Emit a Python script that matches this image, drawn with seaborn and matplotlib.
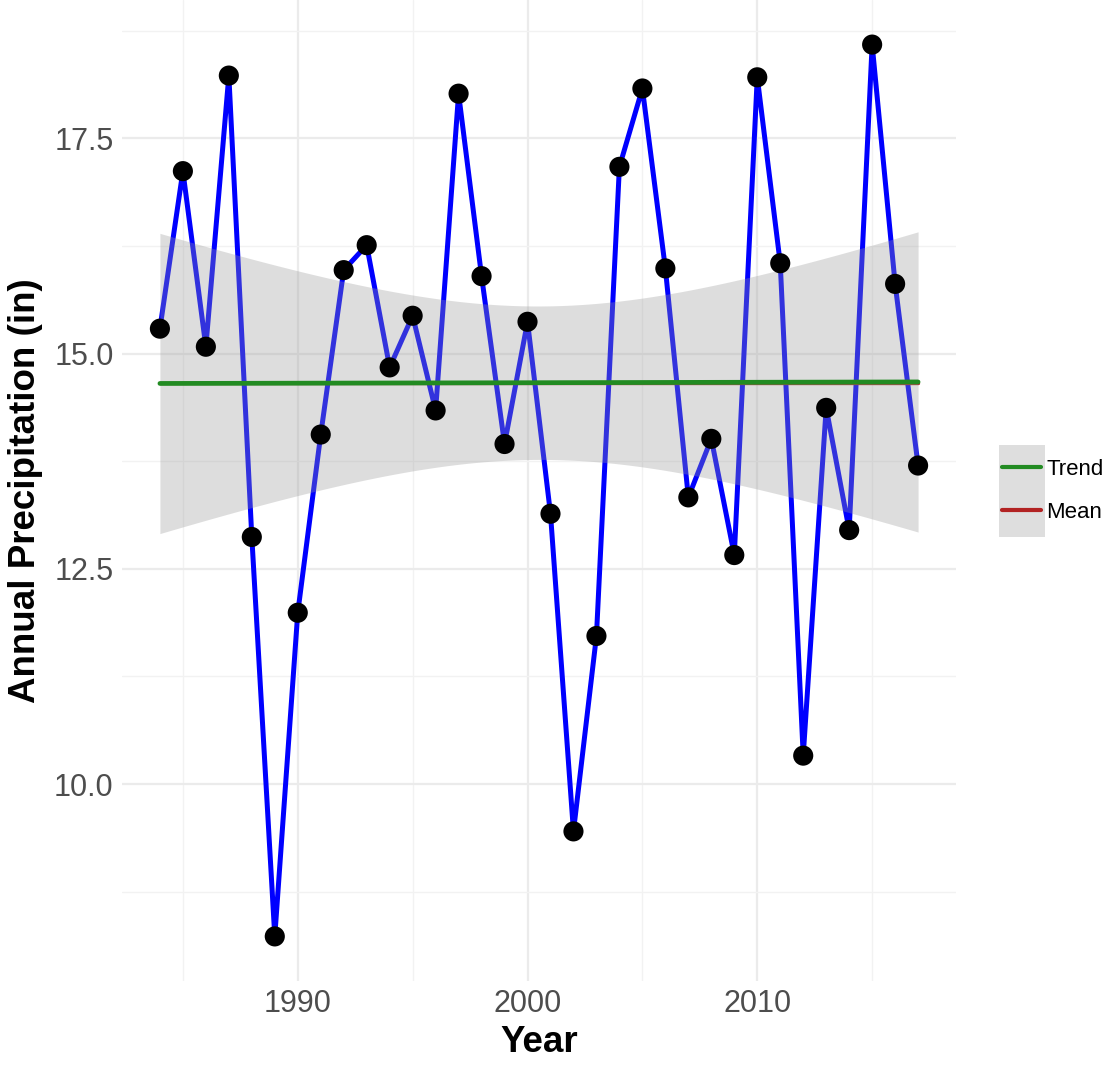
import numpy as np
import pandas as pd
import matplotlib.pyplot as plt
import seaborn as sns
from matplotlib.lines import Line2D
from matplotlib.patches import Rectangle

# Annual precipitation
years = list(range(1984, 2018))
precip = [15.29, 17.12, 15.08, 18.23, 12.87, 8.23, 11.99, 14.06, 15.97, 16.26,
          14.84, 15.44, 14.34, 18.02, 15.90, 13.95, 15.37, 13.14, 9.45, 11.72,
          17.17, 18.08, 15.99, 13.33, 14.01, 12.66, 18.21, 16.05, 10.33, 14.37,
          12.95, 18.59, 15.81, 13.70]
legend_labels = ['Trend', 'Mean']

df = pd.DataFrame({'Year': years, 'Precip': precip})

sns.set_style('white')
plt.rcParams['font.family'] = ['Liberation Sans', 'DejaVu Sans']

fig = plt.figure(figsize=(11.15, 10.67), dpi=100)
ax = fig.add_axes([122 / 1115, 1 - 981 / 1067, (956 - 122) / 1115, 981 / 1067])

# linear trend with 95% confidence band (like geom_smooth(method='lm'))
x = df['Year'].to_numpy(float)
y = df['Precip'].to_numpy(float)
n = len(x)
slope, intercept = np.polyfit(x, y, 1)
xs = np.linspace(x.min(), x.max(), 200)
fit = intercept + slope * xs
resid = y - (intercept + slope * x)
s = np.sqrt(np.sum(resid ** 2) / (n - 2))
se = s * np.sqrt(1 / n + (xs - x.mean()) ** 2 / np.sum((x - x.mean()) ** 2))
tval = 2.0369
df['Mean'] = y.mean()

sns.lineplot(data=df, x='Year', y='Precip', color='blue', linewidth=3.6, ax=ax, zorder=2)
sns.lineplot(data=df, x='Year', y='Mean', color='#b22222', linewidth=2.4, ax=ax, zorder=3)
ax.fill_between(xs, fit - tval * se, fit + tval * se, color='#999999', alpha=0.33,
                linewidth=0, zorder=4)
ax.plot(xs, fit, color='#228b22', linewidth=3.4, zorder=5)
sns.scatterplot(data=df, x='Year', y='Precip', color='black', s=210, edgecolor='none',
                ax=ax, zorder=6)

span = x.max() - x.min()
ax.set_xlim(x.min() - 0.05 * span, x.max() + 0.05 * span)
yspan = y.max() - y.min()
ax.set_ylim(y.min() - 0.05 * yspan, y.max() + 0.05 * yspan)

ax.set_xticks([1990, 2000, 2010])
ax.set_xticks([1985, 1995, 2005, 2015], minor=True)
ax.set_yticks([10.0, 12.5, 15.0, 17.5])
ax.set_yticklabels(['10.0', '12.5', '15.0', '17.5'])
ax.set_yticks([8.75, 11.25, 13.75, 16.25, 18.75], minor=True)
ax.grid(True, which='major', color='#ebebeb', linewidth=1.6)
ax.grid(True, which='minor', color='#f2f2f2', linewidth=1.0)
ax.set_axisbelow(True)
for sp in ax.spines.values():
    sp.set_visible(False)
ax.tick_params(which='both', length=0, labelsize=22, labelcolor='#4d4d4d', pad=6)

ax.set_xlabel('Year', fontsize=26.5, fontweight='bold', color='black', labelpad=4)
ax.set_ylabel('Annual Precipitation (in)', fontsize=26.5, fontweight='bold',
              color='black', labelpad=8)

# legend with grey key background
fig.add_artist(Rectangle((999 / 1115, 1 - 537 / 1067), 46 / 1115, 92 / 1067,
                         transform=fig.transFigure, facecolor='#dedede',
                         edgecolor='none', zorder=0))
handles = [Line2D([], [], color='#228b22', linewidth=3),
           Line2D([], [], color='#b22222', linewidth=3)]
leg = fig.legend(handles, legend_labels, loc='center left',
                 bbox_to_anchor=(1002 / 1115, 1 - 491 / 1067), frameon=False,
                 fontsize=16, handlelength=1.75, handletextpad=0.25, labelspacing=1.0,
                 borderpad=0, borderaxespad=0)
for t in leg.get_texts():
    t.set_color('black')

fig.savefig('out.png', dpi=100)
